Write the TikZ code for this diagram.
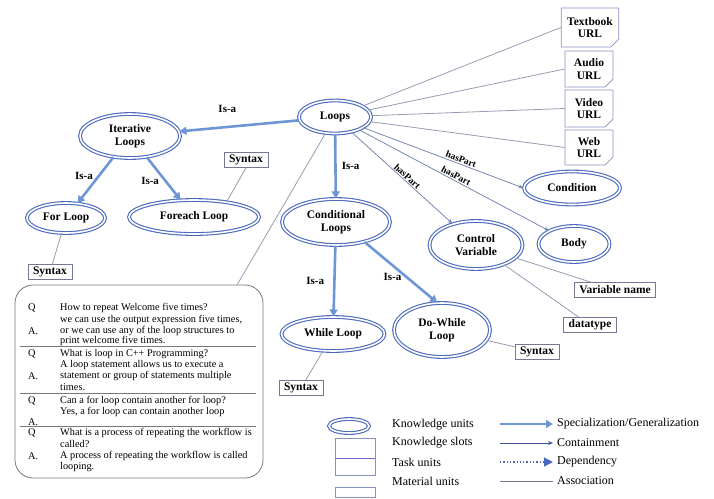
\documentclass[tikz,border=0pt]{standalone}
\usepackage{fontspec}
\setmainfont{Liberation Serif}
\usepackage{tikz}
\usetikzlibrary{
	arrows.meta,
	positioning,
	shapes.geometric,
	shapes.misc
}
\definecolor{UnitBlue}{RGB}{75,105,190}
\definecolor{IsaBlue}{RGB}{110,150,215}
\definecolor{LinkGray}{RGB}{150,156,178}
\definecolor{SlotGray}{RGB}{115,120,150}
\definecolor{MatBlue}{RGB}{135,145,190}
\definecolor{PartBlue}{RGB}{120,135,175}
\definecolor{QaGray}{RGB}{120,120,120}
\definecolor{TaskViolet}{RGB}{120,100,200}

\tikzset{
	unit/.style={ellipse, draw=UnitBlue, double=white, double distance=1.6pt, line width=1.1pt,
		inner sep=0pt, align=center, font=\fontsize{11.5}{12.5}\selectfont\bfseries},
	slot/.style={rectangle, draw=SlotGray, line width=0.7pt, fill=white, inner xsep=5pt,
		inner ysep=2pt, minimum height=15pt, font=\fontsize{11.5}{12.5}\selectfont\bfseries},
	material/.style={chamfered rectangle, chamfered rectangle corners=south east,
		chamfered rectangle xsep=4pt, chamfered rectangle ysep=4pt, draw=MatBlue, line width=0.7pt,
		minimum width=48pt, minimum height=36pt, inner sep=2pt, align=center,
		font=\fontsize{11.5}{12.5}\selectfont\bfseries},
	isa/.style={draw=IsaBlue, line width=2.6pt, -{Triangle[length=7pt,width=8pt]}},
	haspart/.style={draw=PartBlue, line width=0.8pt, -{Stealth[length=5pt,width=4pt]}},
	assoc/.style={draw=LinkGray, line width=0.8pt},
	lbl/.style={font=\fontsize{11}{12}\selectfont\bfseries, inner sep=1pt},
	partlbl/.style={font=\fontsize{9.5}{10}\selectfont\bfseries, sloped, above, inner sep=1pt},
	qa/.style={font=\fontsize{10.3}{11}\selectfont, anchor=west, inner sep=0pt},
	legtext/.style={font=\fontsize{12}{13}\selectfont, anchor=west, inner sep=0pt}
}

\begin{document}
\begin{tikzpicture}[x=1pt, y=-1pt]
	\useasboundingbox (0,0) rectangle (714,498);

	% 知识单元
	\node[unit, minimum width=72pt, minimum height=33pt] (loops) at (335,117) {Loops};
	\node[unit, minimum width=100pt, minimum height=44pt] (iter) at (130,136) {Iterative\\Loops};
	\node[unit, minimum width=78pt, minimum height=30pt] (forl) at (66,218) {For Loop};
	\node[unit, minimum width=130pt, minimum height=34pt] (fore) at (194,217) {Foreach Loop};
	\node[unit, minimum width=108pt, minimum height=46pt] (cond) at (336,222) {Conditional\\Loops};
	\node[unit, minimum width=93pt, minimum height=48pt] (cv) at (476,245) {Control\\Variable};
	\node[unit, minimum width=103pt, minimum height=34pt] (whilel) at (333,334) {While Loop};
	\node[unit, minimum width=96pt, minimum height=54pt] (dowhile) at (442,330) {Do-While\\Loop};
	\node[unit, minimum width=96pt, minimum height=33pt] (condn) at (572,188) {Condition};
	\node[unit, minimum width=71pt, minimum height=36pt] (body) at (574,244) {Body};

	% 知识槽
	\node[slot] (syn1) at (246,160) {Syntax};
	\node[slot] (syn2) at (50,272) {Syntax};
	\node[slot] (syn3) at (301,388) {Syntax};
	\node[slot] (syn4) at (537,352) {Syntax};
	\node[slot] (varname) at (615,290) {Variable name};
	\node[slot] (dtype) at (590,325) {datatype};

	% 素材单元
	\node[material, minimum width=56pt, minimum height=39pt] (tb) at (590,27.5) {Textbook\\URL};
	\node[material] (audio) at (589,69) {Audio\\URL};
	\node[material, minimum height=37pt] (video) at (589,108.5) {Video\\URL};
	\node[material, minimum height=35pt] (web) at (589,147.5) {Web\\URL};

	% 任务单元
	\node[draw=QaGray, line width=0.8pt, rounded corners=18pt, minimum width=248pt, minimum height=193pt] (qa) at (139,381.5) {};
	\coordinate (qatop) at (237,285);

	% 连线
	\draw[isa] (loops) -- (iter) node[lbl, pos=0.6, above=12pt] {Is-a};
	\draw[isa] (loops) -- (cond) node[lbl, midway, right=4pt] {Is-a};
	\draw[isa] (iter) -- (forl) node[lbl, pos=0.4, left=4pt] {Is-a};
	\draw[isa] (iter) -- (fore) node[lbl, pos=0.55, left=4pt] {Is-a};
	\draw[isa] (cond) -- (whilel) node[lbl, midway, left=8pt] {Is-a};
	\draw[isa] (cond.-35) -- (dowhile.100) node[lbl, pos=0.58, left=3pt] {Is-a};

	\draw[haspart] (loops) -- (cv) node[partlbl, pos=0.52] {hasPart};
	\draw[haspart] (loops) -- (body) node[partlbl, midway] {hasPart};
	\draw[haspart] (loops) -- (condn.west) node[partlbl, pos=0.6] {hasPart};

	\draw[assoc] (loops) -- (tb.west);
	\draw[assoc] (loops) -- (audio.west);
	\draw[assoc] (loops) -- (video.west);
	\draw[assoc] (loops) -- (web.west);
	\draw[assoc] (loops) -- (qatop);
	\draw[assoc] (fore.25) -- (syn1.south);
	\draw[assoc] (forl) -- (syn2);
	\draw[assoc] (whilel) -- (syn3);
	\draw[assoc] (dowhile) -- (syn4);
	\draw[assoc] (cv) -- (varname);
	\draw[assoc] (cv) -- (dtype);

	% 问答
	\draw[QaGray, line width=0.8pt] (20,346) -- (256,346);
	\draw[QaGray, line width=0.8pt] (20,393) -- (256,393);
	\draw[QaGray, line width=0.8pt] (20,426) -- (256,426);

	\node[qa] (q1) at (28,308) {Q};
	\node[qa] (a1) at (28,331) {A.};
	\node[qa] (q1a) at (60,308) {How to repeat Welcome five times?};
	\node[qa] (q1b) at (60,320) {we can use the output expression five times,};
	\node[qa] (q1c) at (60,331) {or we can use any of the loop structures to};
	\node[qa] (q1d) at (60,341) {print welcome five times.};

	\node[qa] (q2) at (28,354) {Q};
	\node[qa] (a2) at (28,376) {A.};
	\node[qa] (q2a) at (60,354) {What is loop in C++ Programming?};
	\node[qa] (q2b) at (60,365) {A loop statement allows us to execute a};
	\node[qa] (q2c) at (60,376) {statement or group of statements multiple};
	\node[qa] (q2d) at (60,387) {times.};

	\node[qa] (q3) at (28,401) {Q};
	\node[qa] (a3) at (28,422) {A.};
	\node[qa] (q3a) at (60,401) {Can a for loop contain another for loop?};
	\node[qa] (q3b) at (60,412) {Yes, a for loop can contain another loop};

	\node[qa] (q4) at (28,433) {Q};
	\node[qa] (a4) at (28,456) {A.};
	\node[qa] (q4a) at (60,433) {What is a process of repeating the workflow is};
	\node[qa] (q4b) at (60,444) {called?};
	\node[qa] (q4c) at (60,456) {A process of repeating the workflow is called};
	\node[qa] (q4d) at (60,467) {looping.};

	% 图例
	\node[unit, minimum width=40pt, minimum height=14pt] (lgku) at (349,426) {};
	\node[draw=MatBlue, line width=0.7pt, minimum width=40pt, minimum height=20pt] (lgslot) at (355,448) {};
	\node[draw=MatBlue, line width=0.7pt, minimum width=40pt, minimum height=17pt] (lgtask) at (355,466.5) {};
	\draw[TaskViolet, line width=1pt] (lgslot.south west) -- (lgslot.south east);
	\node[draw=MatBlue, line width=0.7pt, minimum width=40pt, minimum height=10pt] (lgmat) at (355,492.5) {};

	\node[legtext] (lgkut) at (392,425) {Knowledge units};
	\node[legtext] (lgslt) at (392,443) {Knowledge slots};
	\node[legtext] (lgtat) at (392,462) {Task units};
	\node[legtext] (lgmatt) at (392,481) {Material units};

	\coordinate (sg1) at (500,424);
	\coordinate (sg2) at (553,424);
	\coordinate (ct1) at (500,443);
	\coordinate (ct2) at (553,443);
	\coordinate (dp1) at (500,462);
	\coordinate (dp2) at (553,462);
	\coordinate (as1) at (500,481);
	\coordinate (as2) at (553,481);
	\draw[isa, line width=2pt] (sg1) -- (sg2);
	\draw[draw=UnitBlue!80!black, line width=0.8pt, -{Stealth[length=5pt,width=4pt]}] (ct1) -- (ct2);
	\draw[draw=UnitBlue, line width=1.3pt, dotted, -{Triangle[length=9pt,width=9pt]}] (dp1) -- (dp2);
	\draw[draw=SlotGray, line width=0.8pt] (as1) -- (as2);

	\node[legtext] (lgsgt) at (557,424) {Specialization/Generalization};
	\node[legtext] (lgctt) at (557,443) {Containment};
	\node[legtext] (lgdpt) at (557,462) {Dependency};
	\node[legtext] (lgast) at (557,481) {Association};
\end{tikzpicture}
\end{document}
